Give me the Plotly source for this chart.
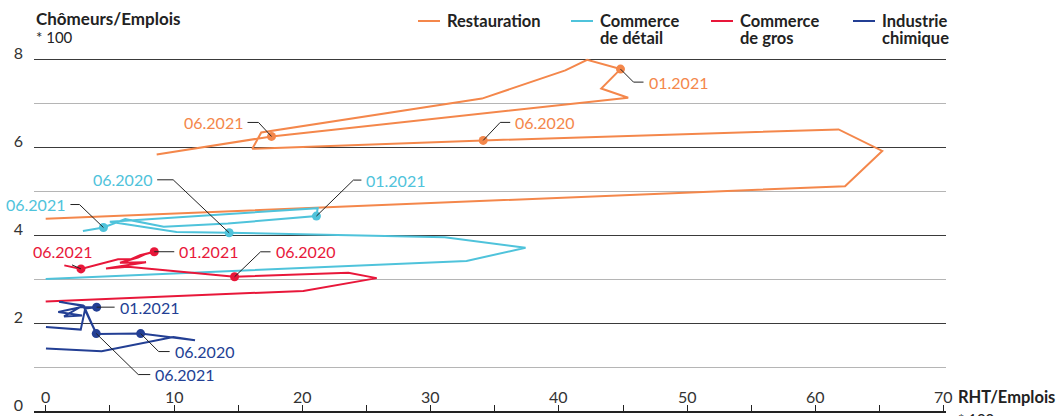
import plotly.graph_objects as go

# ---------------- data (x = RHT/Emplois *100, y = Chômeurs/Emplois *100) -------------
resto_x = [0.0, 62.3, 65.2, 61.8, 34.1, 24.0, 16.1, 16.8, 34.0, 40.5, 42.2, 44.8, 43.3, 45.4, 17.6, 8.65]
resto_y = [4.37, 5.11, 5.91, 6.40, 6.15, 6.05, 5.96, 6.33, 7.10, 7.74, 7.98, 7.77, 7.33, 7.12, 6.24, 5.83]

detail_x = [0.0, 32.8, 37.4, 31.1, 14.3, 10.2, 5.0, 21.2, 21.1, 14.2, 9.2, 6.2, 4.5, 2.9]
detail_y = [3.00, 3.41, 3.71, 3.95, 4.05, 4.07, 4.30, 4.61, 4.43, 4.26, 4.19, 4.36, 4.17, 4.09]

gros_x = [0.0, 20.08, 25.8, 23.59, 14.72, 6.41, 4.70, 7.82, 5.79, 7.19, 7.73, 8.46, 7.35, 6.65, 5.64, 2.75, 1.45]
gros_y = [2.49, 2.73, 3.02, 3.14, 3.05, 3.28, 3.24, 3.38, 3.37, 3.49, 3.56, 3.62, 3.54, 3.45, 3.45, 3.23, 3.31]

chimie_x = [0.02, 4.36, 9.95, 11.64, 7.40, 3.97, 2.91, 1.04, 3.06, 0.98, 2.83, 1.43, 2.67, 3.97,
            3.06, 3.94, 3.06, 2.73, 0.02]
chimie_y = [1.42, 1.36, 1.68, 1.61, 1.76, 1.75, 2.40, 2.48, 2.38, 2.25, 2.17, 2.15, 2.36, 2.36,
            2.33, 1.76, 2.30, 1.85, 1.91]

series_names = [["Restauration"], ["Commerce", "de détail"], ["Commerce", "de gros"], ["Industrie", "chimique"]]
colors = ["#F4874B", "#4FC3DB", "#E8173A", "#233F94"]

x_tick_vals = [0, 10, 20, 30, 40, 50, 60, 70]
x_tick_text = ["0", "10", "20", "30", "40", "50", "60", "70"]

# labelled points: (series index, point index, label)
labels = [
    (0, 4, "06.2020"), (0, 11, "01.2021"), (0, 14, "06.2021"),
    (1, 4, "06.2020"), (1, 8, "01.2021"), (1, 12, "06.2021"),
    (2, 4, "06.2020"), (2, 11, "01.2021"), (2, 15, "06.2021"),
    (3, 4, "06.2020"), (3, 13, "01.2021"), (3, 15, "06.2021"),
]
# leader style in pixels: elbow dx, elbow dy, horizontal length, text side
leader_style = {
    (0, 4): (17, -18, 10, "r"), (0, 11): (13, 13, 10, "r"), (0, 14): (-13, -14, 11, "l"),
    (1, 4): (-56, -53, 16, "l"), (1, 8): (37, -36, 8, "r"), (1, 12): (-24, -23, 9, "l"),
    (2, 4): (26, -25, 10, "r"), (2, 11): (0, 0, 20, "r"), (2, 15): (-9, -4, 0, "lt"),
    (3, 4): (18, 18, 11, "r"), (3, 13): (0, 0, 18, "r"), (3, 15): (42, 41, 12, "r"),
}

all_x = [resto_x, detail_x, gros_x, chimie_x]
all_y = [resto_y, detail_y, gros_y, chimie_y]

PXX = 12.83  # px per x unit
PXY = 44.0   # px per y unit

fig = go.Figure()
for i in range(4):
    fig.add_trace(go.Scatter(x=all_x[i], y=all_y[i], mode="lines",
                             line=dict(color=colors[i], width=2), showlegend=False,
                             hoverinfo="skip"))

shapes = []
annotations = []
for (s, k, txt) in labels:
    px_, py_ = all_x[s][k], all_y[s][k]
    fig.add_trace(go.Scatter(x=[px_], y=[py_], mode="markers",
                             marker=dict(color=colors[s], size=9), showlegend=False,
                             hoverinfo="skip"))
    dx, dy, hl, side = leader_style[(s, k)]
    ex, ey = px_ + dx / PXX, py_ - dy / PXY
    if side == "lt":
        shapes.append(dict(type="line", xref="x", yref="y", x0=px_, y0=py_, x1=ex, y1=ey,
                           line=dict(color="#222", width=1)))
        annotations.append(dict(x=ex - 9 / PXX, y=ey + 2 / PXY, text=txt, xref="x", yref="y",
                                showarrow=False, xanchor="center", yanchor="bottom",
                                font=dict(color=colors[s], size=16)))
        continue
    sign = 1 if side == "r" else -1
    hx = ex + sign * hl / PXX
    shapes.append(dict(type="path", xref="x", yref="y",
                       path=f"M{px_},{py_} L{ex},{ey} L{hx},{ey}",
                       line=dict(color="#222", width=1)))
    annotations.append(dict(x=hx + sign * 3 / PXX, y=ey, text=txt, xref="x", yref="y",
                            showarrow=False, xanchor="left" if sign > 0 else "right",
                            yanchor="middle", font=dict(color=colors[s], size=16)))

# ---- layout geometry
W, H = 1062, 416
L, R, T, B = 34, 116, 50, 5
pw, ph = W - L - R, H - T - B


def pxp(x):
    return (x - L) / pw


def pyp(y):
    return (H - B - y) / ph


# x tick labels (drawn above the axis line)
for v, t in zip(x_tick_vals, x_tick_text):
    annotations.append(dict(xref="x", yref="paper", x=v, y=pyp(396), text=t, showarrow=False,
                            xanchor="center", yanchor="middle",
                            font=dict(size=16, color="#333")))

# manual legend
leg_line_x = [418, 571, 711, 853]
for i in range(4):
    shapes.append(dict(type="line", xref="paper", yref="paper",
                       x0=pxp(leg_line_x[i]), x1=pxp(leg_line_x[i] + 22),
                       y0=pyp(21), y1=pyp(21), line=dict(color=colors[i], width=2)))
    for j, line_txt in enumerate(series_names[i]):
        annotations.append(dict(xref="paper", yref="paper", x=pxp(leg_line_x[i] + 27),
                                y=pyp(20.5 + 18 * j), text=line_txt, showarrow=False,
                                xanchor="left", yanchor="middle",
                                font=dict(size=16.5, color="#222", weight="bold")))

annotations += [
    dict(xref="paper", yref="paper", x=pxp(34), y=pyp(19), text="<b>Chômeurs/Emplois</b>",
         showarrow=False, xanchor="left", yanchor="middle", font=dict(size=17, color="#222")),
    dict(xref="paper", yref="paper", x=pxp(34), y=pyp(37), text="* 100",
         showarrow=False, xanchor="left", yanchor="middle", font=dict(size=15, color="#222")),
    dict(xref="paper", yref="paper", x=pxp(956), y=pyp(397), text="<b>RHT/Emplois</b>",
         showarrow=False, xanchor="left", yanchor="middle", font=dict(size=16.5, color="#222")),
    dict(xref="paper", yref="paper", x=pxp(956), y=pyp(408), text="* 100",
         showarrow=False, xanchor="left", yanchor="top", font=dict(size=15, color="#222")),
]

fig.update_layout(
    width=W, height=H, margin=dict(l=L, r=R, t=T, b=B, autoexpand=False),
    paper_bgcolor="white", plot_bgcolor="white",
    font=dict(family="Lato, sans-serif", size=16, color="#222"),
    shapes=shapes, annotations=annotations, showlegend=False,
    xaxis=dict(range=[-0.912, 70.17], dtick=10, tick0=0, showgrid=False, zeroline=False,
               showline=True, linecolor="#222", linewidth=1.5, showticklabels=False,
               ticks="inside", ticklen=6, tickcolor="#222", automargin=False,
               minor=dict(dtick=5, ticks="inside", ticklen=6, tickcolor="#222")),
    yaxis=dict(range=[0, 361 / 44], dtick=2, tick0=0, showgrid=True, gridcolor="#3a3a3a",
               gridwidth=1.3, zeroline=False, showline=False, ticks="", automargin=False,
               tickfont=dict(size=16, color="#333"), ticklabelstandoff=10, ticklabelshift=-6,
               minor=dict(dtick=1, showgrid=True, gridcolor="#b5b5b5", gridwidth=1.3)),
)

fig.write_html("out.html", config={"displayModeBar": False},
               post_script="document.body.style.margin='0px';")
